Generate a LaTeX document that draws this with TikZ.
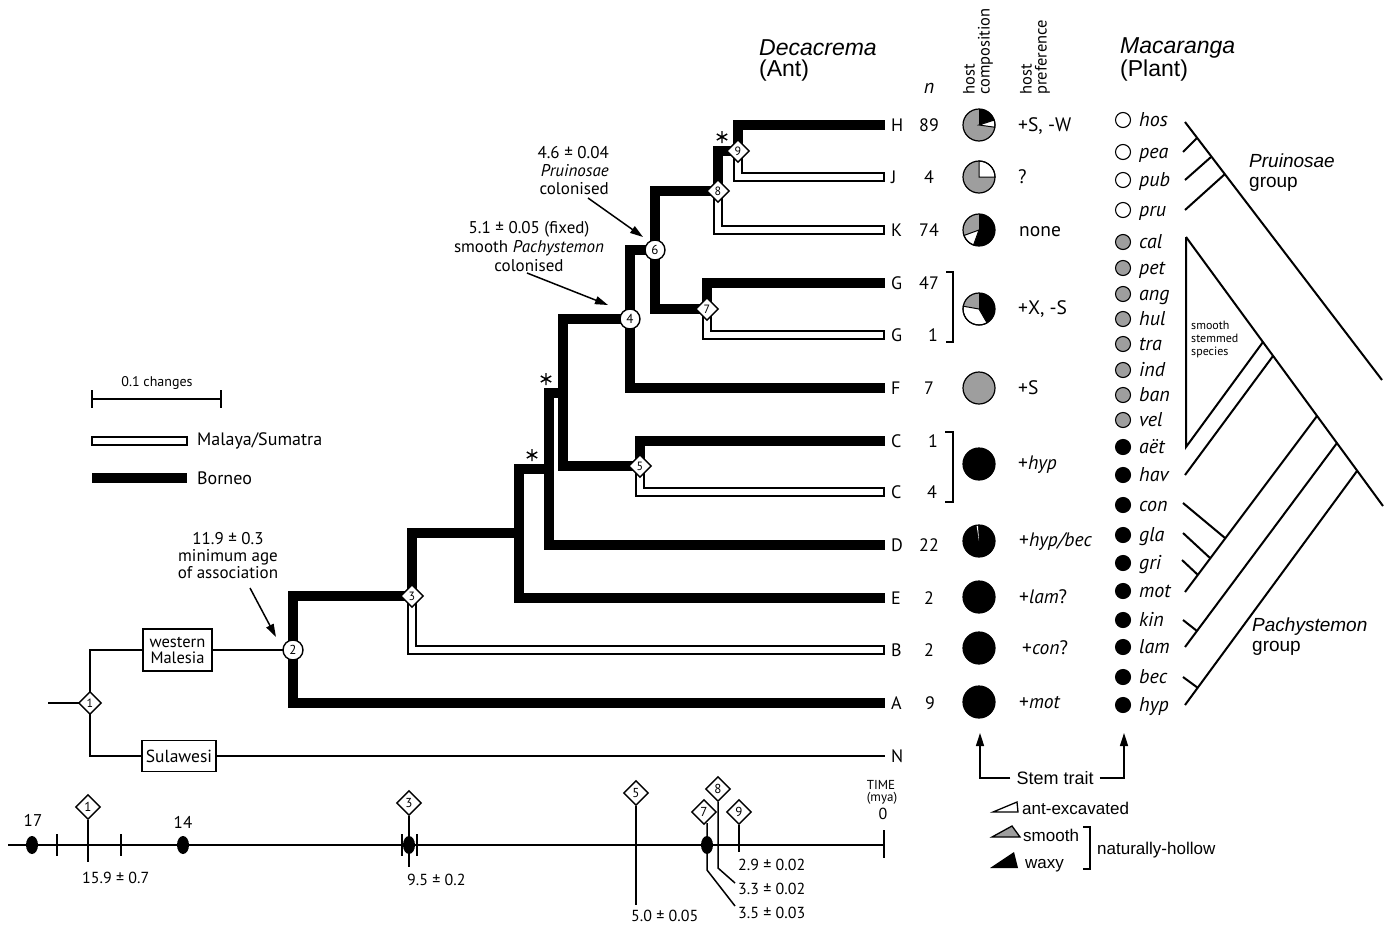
\documentclass[tikz,border=0pt]{standalone}
\usepackage{fontspec}
\setmainfont{PT Sans}
\newfontfamily\hv{Liberation Sans}
\usetikzlibrary{shapes.geometric,arrows.meta}
\definecolor{smgray}{gray}{0.62}
\newcommand\fs[1]{\fontsize{#1}{#1}\selectfont}
\newcommand\pslice[4]{\fill[#4] (#1) -- ++(#2:16) arc[start angle=#2,end angle=#3,radius=16] -- cycle;}
\newcommand\pwhite[3]{\filldraw[fill=white,draw=black,line width=1] (#1) -- ++(#2:16) arc[start angle=#2,end angle=#3,radius=16] -- cycle;}
\newcommand\pring[1]{\draw[line width=1.2] (#1) circle (16);}
\begin{document}
\begin{tikzpicture}[x=1pt,y=1pt,font=\fs{16},every node/.style={inner sep=0}]
\useasboundingbox (0,0) rectangle (1391,-926);
\tikzset{
 borneo/.style={line width=10, line join=miter},
 mal/.style={line width=10, line join=miter},
 malin/.style={white, line width=6.4, line join=miter, shorten >=1.8pt},
 tline/.style={line width=2.4},
 cnode/.style={circle, draw, fill=white, line width=1.4, minimum size=20, font=\fs{13}},
 dnode/.style={diamond, draw, fill=white, line width=1.4, minimum width=23, minimum height=23, font=\fs{12}},
 tdnode/.style={dnode, minimum width=25, minimum height=25, font=\fs{13}},
 tiplab/.style={anchor=west, font=\fs{18}, text height=12.6, text depth=0},
 nlab/.style={font=\fs{18}, text height=12.6, text depth=0},
 pref/.style={anchor=west, font=\fs{19.5}, text height=13.5, text depth=0},
 mtip/.style={anchor=west, font=\fs{20}\itshape, text height=13.5, text depth=0},
 mdot/.style={circle, draw, line width=1.1, minimum size=15},
 ann/.style={-{Triangle[length=13pt,width=8pt]}, line width=1.5},
 mtree/.style={line width=2},
 grp/.style={anchor=west, align=left, font=\hv\fontsize{19}{20}\selectfont},
 leg/.style={anchor=west, font=\hv\fs{17}, text height=12, text depth=0},
 tl/.style={line width=1.5},
 tnum/.style={anchor=west, font=\fs{16}, text height=11.5, text depth=0},
 astk/.pic={\draw[line width=1.4] (0,6)--(0,-6) (-5.2,3)--(5.2,-3) (-5.2,-3)--(5.2,3);},
}
% ---------------- headers
\node[anchor=west, font=\hv\fs{23}\itshape] (dec) at (759,-48) {Decacrema};
\node[anchor=west, font=\hv\fs{23}] (ant) at (759,-71) {(Ant)};
\node[font=\fs{20}\itshape] (nhead) at (929,-88) {n};
\node[rotate=90, anchor=west, align=left, font=\fontsize{16.5}{15}\selectfont] (hc) at (978,-95) {host\\composition};
\node[rotate=90, anchor=west, align=left, font=\fontsize{16.5}{15}\selectfont] (hp) at (1035,-95) {host\\preference};
\node[anchor=west, font=\hv\fs{23}\itshape] (mac) at (1120,-48) {Macaranga};
\node[anchor=west, font=\hv\fs{23}] (pla) at (1120,-71) {(Plant)};
% ---------------- tree coordinates
\coordinate (root) at (48,-703);
\coordinate (n1) at (90,-703);
\coordinate (n2) at (293,-650);
\coordinate (n3) at (412,-596);
\coordinate (na) at (519,-533);
\coordinate (nb) at (549,-469);
\coordinate (nc) at (563,-393);
\coordinate (n4) at (630,-319);
\coordinate (n5) at (640,-466);
\coordinate (n6) at (655,-250);
\coordinate (n7) at (707,-309);
\coordinate (n8) at (718,-191);
\coordinate (n9) at (738,-151);
\coordinate (tH) at (885,-125);
\coordinate (tJ) at (885,-177);
\coordinate (tK) at (885,-230);
\coordinate (tG1) at (885,-283);
\coordinate (tG2) at (885,-335);
\coordinate (tF) at (885,-388);
\coordinate (tC1) at (885,-441);
\coordinate (tC2) at (885,-492);
\coordinate (tD) at (885,-545);
\coordinate (tE) at (885,-598);
\coordinate (tB) at (885,-650);
\coordinate (tA) at (885,-703);
\coordinate (tN) at (885,-756);
% ---------------- Borneo branches
\draw[borneo] (n3) -| (n2) |- (tA);
\draw[borneo] (na) -| (n3);
\draw[borneo] (nb) -| (na) |- (tE);
\draw[borneo] (nc) -| (nb) |- (tD);
\draw[borneo] (n4) -| (nc) |- (n5);
\draw[borneo] (n5) |- (tC1);
\draw[borneo] (n6) -| (n4) |- (tF);
\draw[borneo] (n8) -| (n6) |- (n7);
\draw[borneo] (n7) |- (tG1);
\draw[borneo] (n9) -| (n8);
\draw[borneo] (n9) |- (tH);
% ---------------- Malaya/Sumatra branches
\foreach \a/\b in {n3/tB,n5/tC2,n7/tG2,n8/tK,n9/tJ}{
  \draw[mal] (\a) |- (\b);
  \draw[malin] (\a) |- (\b);
}
% ---------------- basal part
\node[draw, line width=1.5, align=center, minimum width=69, minimum height=42, font=\fontsize{16.5}{16}\selectfont] (wm) at (177.5,-650) {western\\Malesia};
\node[draw, line width=1.5, minimum width=74, minimum height=31, font=\fs{17.5}] (sul) at (179,-756) {Sulawesi};
\draw[tline] (root) -- (n1);
\draw[tline] (n1) |- (wm.west);
\draw[tline] (wm.east) -- (n2);
\draw[tline] (n1) |- (sul.west);
\draw[tline] (sul.east) -- (tN);
% ---------------- node markers
\node[dnode] (N1) at (n1) {1};
\node[cnode] (N2) at (n2) {2};
\node[dnode] (N3) at (n3) {3};
\node[cnode] (N4) at (n4) {4};
\node[dnode] (N5) at (n5) {5};
\node[cnode] (N6) at (n6) {6};
\node[dnode] (N7) at (n7) {7};
\node[dnode] (N8) at (n8) {8};
\node[dnode] (N9) at (n9) {9};
\pic at (722,-137) {astk};
\pic at (546,-379) {astk};
\pic at (532,-455) {astk};
% ---------------- annotations
\node[align=center, font=\fontsize{17}{17}\selectfont] (a119) at (228,-556) {11.9 ± 0.3\\minimum age\\of association};
\coordinate (a2s) at (250,-588); \coordinate (a2e) at (276,-637);
\draw[ann] (a2s) -- (a2e);
\node[align=center, font=\fontsize{17}{19}\selectfont] (a51) at (529,-247) {5.1 ± 0.05 (fixed)\\smooth \textit{Pachystemon}\\colonised};
\coordinate (a4s) at (527,-273); \coordinate (a4e) at (608,-305);
\draw[ann] (a4s) -- (a4e);
\node[align=right, anchor=east, font=\fontsize{17}{18}\selectfont] (a46) at (609,-171) {4.6 ± 0.04\\\textit{Pruinosae}\\colonised};
\coordinate (a6s) at (588,-198); \coordinate (a6e) at (643,-237);
\draw[ann] (a6s) -- (a6e);
% ---------------- tip labels and n
\foreach \l/\y in {H/125,J/177,K/230,G/283,G/335,F/388,C/441,C/492,D/545,E/598,B/650,A/703,N/756}{
  \node[tiplab] at (891,-\y) {\l};}
\foreach \v/\x/\y in {89/929/125,4/929/177,74/929/230,47/929/283,1/933/335,7/929/388,1/933/441,4/932/492,22/929/545,2/929/598,2/929/650,9/930/703}{
  \node[nlab] at (\x,-\y) {\v};}
\draw[line width=1.5] (946,-272) -- (953,-272) -- (953,-342) -- (946,-342);
\draw[line width=1.5] (945,-432) -- (953,-432) -- (953,-502) -- (945,-502);
% ---------------- pies
\coordinate (pH) at (979,-125); \fill[smgray] (pH) circle (16); \pslice{pH}{18}{90}{black} \pwhite{pH}{-8}{18} \pring{pH}
\coordinate (pJ) at (979,-177); \fill[smgray] (pJ) circle (16); \pwhite{pJ}{0}{90} \pring{pJ}
\coordinate (pK) at (979,-230); \fill[smgray] (pK) circle (16); \pslice{pK}{250}{450}{black} \pwhite{pK}{200}{250} \pring{pK}
\coordinate (pG) at (979,-309); \fill[smgray] (pG) circle (16); \pslice{pG}{300}{450}{black} \pwhite{pG}{170}{300} \pring{pG}
\coordinate (pF) at (979,-388); \fill[smgray] (pF) circle (16); \pring{pF}
\coordinate (pC) at (979,-464); \fill (pC) circle (16); \pring{pC}
\coordinate (pD) at (979,-541); \fill (pD) circle (16); \pslice{pD}{94}{99}{white} \pring{pD}
\coordinate (pE) at (979,-597); \fill (pE) circle (16); \pring{pE}
\coordinate (pB) at (979,-648); \fill (pB) circle (16); \pring{pB}
\coordinate (pA) at (979,-702); \fill (pA) circle (16); \pring{pA}
% ---------------- host preference
\node[pref] at (1018,-125) {+S, -W};
\node[pref] at (1018,-177) {?};
\node[pref] at (1019,-230) {none};
\node[pref] at (1018,-308) {+X, -S};
\node[pref] at (1018,-388) {+S};
\node[pref] at (1018,-463) {+\textit{hyp}};
\node[pref] at (1019,-540) {+\textit{hyp/bec}};
\node[pref] at (1019,-597) {+\textit{lam}?};
\node[pref] at (1022,-648) {+\textit{con}?};
\node[pref] at (1019,-702) {+\textit{mot}};
% ---------------- Macaranga tips
\foreach \n/\y/\c in {hos/120/white,pea/152/white,pub/180/white,pru/210/white,cal/242/smgray,pet/268/smgray,ang/294/smgray,hul/319/smgray,tra/344/smgray,ind/370/smgray,ban/395/smgray,vel/420/smgray,aët/447/black,hav/475/black,con/505/black,gla/535/black,gri/563/black,mot/591/black,kin/620/black,lam/647/black,bec/677/black,hyp/705/black}{
  \node[mdot, fill=\c] at (1123,-\y) {};
  \node[mtip] at (1139,-\y) {\n};}
% ---------------- Macaranga tree
\coordinate (mhos) at (1185,-122); \coordinate (P1) at (1382,-380);
\coordinate (mpea) at (1183,-152); \coordinate (jpea) at (1197,-138);
\coordinate (mpub) at (1185,-180); \coordinate (jpub) at (1211,-157);
\coordinate (mpru) at (1185,-210); \coordinate (jpru) at (1225,-174);
\draw[mtree] (mhos) -- (P1);
\draw[mtree] (mpea) -- (jpea);
\draw[mtree] (mpub) -- (jpub);
\draw[mtree] (mpru) -- (jpru);
\coordinate (mcal) at (1186,-237); \coordinate (P2) at (1383,-506);
\coordinate (mvel) at (1186,-447); \coordinate (jtri) at (1263,-342);
\coordinate (mhav) at (1185,-475); \coordinate (jhav) at (1273,-356);
\coordinate (mmot) at (1185,-592); \coordinate (jmot) at (1317,-416);
\coordinate (mcon) at (1183,-503); \coordinate (jcon) at (1225,-538);
\coordinate (mgla) at (1183,-533); \coordinate (jgla) at (1210,-558);
\coordinate (mgri) at (1182,-560); \coordinate (jgri) at (1198,-575);
\coordinate (mlam) at (1185,-647); \coordinate (jlam) at (1337,-443);
\coordinate (mkin) at (1183,-620); \coordinate (jkin) at (1197,-631);
\coordinate (mhyp) at (1185,-705); \coordinate (jhyp) at (1357,-471);
\coordinate (mbec) at (1183,-677); \coordinate (jbec) at (1198,-688);
\draw[mtree] (mcal) -- (P2);
\draw[mtree, line join=miter] (mcal) -- (mvel) -- (jtri);
\draw[mtree] (mhav) -- (jhav);
\draw[mtree] (mmot) -- (jmot);
\draw[mtree] (mcon) -- (jcon);
\draw[mtree] (mgla) -- (jgla);
\draw[mtree] (mgri) -- (jgri);
\draw[mtree] (mlam) -- (jlam);
\draw[mtree] (mkin) -- (jkin);
\draw[mtree] (mhyp) -- (jhyp);
\draw[mtree] (mbec) -- (jbec);
\node[grp] (pru) at (1249,-173) {\textit{Pruinosae}\\group};
\node[grp] (pac) at (1252,-637) {\textit{Pachystemon}\\group};
\node[anchor=north west, align=left, font=\fontsize{12}{13}\selectfont] (sss) at (1191,-321) {smooth\\stemmed\\species};
% ---------------- stem trait legend
\node[font=\hv\fs{18}, inner xsep=6] (st) at (1055,-778) {Stem trait};
\coordinate (aL) at (980,-733); \coordinate (aR) at (1124,-733);
\draw[ann] (st.west) -| (aL);
\draw[ann] (st.east) -| (aR);
\draw[line width=1.3] (993,-812) -- (1018,-812) -- (1017,-802) -- cycle;
\filldraw[fill=smgray, line width=1.3] (992,-837) -- (1020,-837) -- (1012,-826) -- cycle;
\fill (990,-868) -- (1018,-868) -- (1014,-852) -- cycle;
\node[leg] (lae) at (1022,-808) {ant-excavated};
\node[leg] (lsm) at (1023,-835) {smooth};
\node[leg] (lwx) at (1025,-862) {waxy};
\draw[line width=1.5] (1083,-827) -- (1090,-827) -- (1090,-869) -- (1083,-869);
\node[leg] (lnh) at (1097,-848) {naturally-hollow};
% ---------------- left legend
\node[font=\fs{14}] (sc) at (157,-383) {0.1 changes};
\coordinate (sb1) at (92,-399); \coordinate (sb2) at (221,-399);
\draw[line width=2] (sb1) -- (sb2);
\draw[line width=2] (92,-390) -- (92,-408) (221,-390) -- (221,-408);
\draw[line width=1.5] (92,-437) rectangle (187,-445);
\fill (92,-473) rectangle (187,-483);
\node[anchor=west, font=\fs{18}] (lms) at (197,-441) {Malaya/Sumatra};
\node[anchor=west, font=\fs{18}] (lbo) at (197,-478) {Borneo};
% ---------------- timeline
\coordinate (ax0) at (8,-845); \coordinate (ax1) at (884,-845);
\draw[tl] (ax0) -- (ax1);
\foreach \x in {32,183,409,707}{\fill (\x,-845) ellipse (6 and 9);}
\node[font=\fs{17}] at (33,-820) {17};
\node[font=\fs{17}] at (183,-822) {14};
\draw[tl] (57,-834) -- (57,-856) (121,-834) -- (121,-856);
\draw[tl] (402,-834) -- (402,-856) (417,-834) -- (417,-856);
\node[tdnode] (T1) at (88,-807) {1};
\node[tdnode] (T3) at (409,-803) {3};
\node[tdnode] (T5) at (636,-793) {5};
\node[tdnode] (T7) at (704,-812) {7};
\node[tdnode] (T8) at (718,-789) {8};
\node[tdnode] (T9) at (739,-812) {9};
\coordinate (e1) at (88,-862); \coordinate (e3) at (409,-867);
\coordinate (e5) at (636,-905); \coordinate (e9) at (739,-852);
\coordinate (k7) at (707,-870); \coordinate (e7) at (735,-906);
\coordinate (k8) at (718,-868); \coordinate (e8) at (735,-883);
\draw[tl] (T1.south) -- (e1);
\draw[tl] (T3.south) -- (e3);
\draw[tl] (T5.south) -- (e5);
\draw[tl] (T9.south) -- (e9);
\draw[tl] (707,-823) -- (k7) -- (e7);
\draw[tl] (T8.south) -- (k8) -- (e8);
\node[tnum] at (82,-878) {15.9 ± 0.7};
\node[tnum] at (407,-880) {9.5 ± 0.2};
\node[tnum] at (631,-916) {5.0 ± 0.05};
\node[tnum] at (738,-865) {2.9 ± 0.02};
\node[tnum] at (738,-889) {3.3 ± 0.02};
\node[tnum] at (738,-913) {3.5 ± 0.03};
\coordinate (t0a) at (884,-830); \coordinate (t0b) at (884,-858);
\draw[tl] (t0a) -- (t0b);
\node[font=\fs{13}] at (881,-785) {TIME};
\node[font=\fs{13}] at (882,-798) {(mya)};
\node[font=\fs{16}] at (883,-814) {0};
\end{tikzpicture}
\end{document}
